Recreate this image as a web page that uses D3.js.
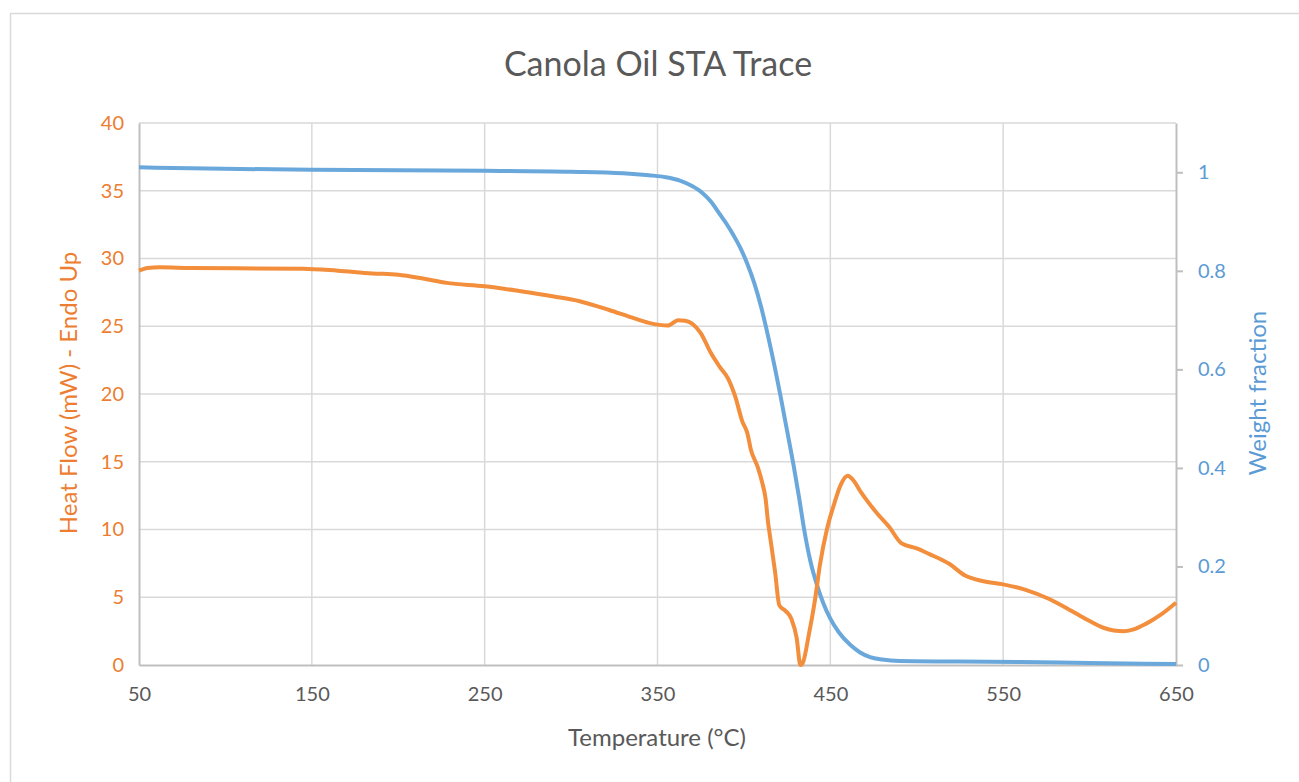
<!DOCTYPE html>
<html>
<head>
<meta charset="utf-8">
<script src="https://cdn.jsdelivr.net/npm/d3@7"></script>
<style>
  html, body { margin: 0; padding: 0; background: #fff; }
  svg { display: block; font-family: Lato, "Open Sans", sans-serif; }
</style>
</head>
<body>
<svg id="chart" width="1299" height="782"></svg>
<script>
// ---- data ----
const title = "Canola Oil STA Trace";
const xTitle = "Temperature (°C)";
const yLeftTitle = "Heat Flow (mW) - Endo Up";
const yRightTitle = "Weight fraction";

const xTicks = [50, 150, 250, 350, 450, 550, 650];
const yLeftTicks = [0, 5, 10, 15, 20, 25, 30, 35, 40];
const yRightTicks = [0, 0.2, 0.4, 0.6, 0.8, 1];

// Heat flow (mW) vs temperature
const heatTemp = [50, 55, 62, 80, 145, 165, 185, 200, 215, 228, 250, 270, 290, 305, 322, 335, 345, 356, 362, 366, 370, 375, 381, 386, 391, 395, 399, 402, 404, 408, 410.5, 412.5, 414, 415, 418, 420.5, 424, 427.5, 430.5, 432.7, 434.2, 437.5, 441, 444, 448, 452, 456, 460, 463.5, 467.5, 472, 477, 484, 491, 500, 507, 519, 528, 538, 550, 563, 577, 588, 597, 608, 614, 620, 626, 632, 641, 650];
const heatFlow = [29.1, 29.3, 29.35, 29.3, 29.25, 29.1, 28.9, 28.8, 28.5, 28.2, 27.95, 27.6, 27.2, 26.85, 26.2, 25.65, 25.25, 25.05, 25.45, 25.4, 25.2, 24.5, 23.0, 22.0, 21.1, 19.8, 18.0, 17.1, 15.9, 14.6, 13.5, 12.3, 10.5, 9.6, 6.9, 4.4, 4.0, 3.4, 2.0, 0.0, 0.2, 2.2, 4.7, 7.4, 10.0, 11.8, 13.3, 13.97, 13.6, 12.8, 12.0, 11.2, 10.2, 9.0, 8.6, 8.2, 7.45, 6.6, 6.2, 5.95, 5.55, 4.85, 4.1, 3.45, 2.75, 2.55, 2.5, 2.65, 3.0, 3.7, 4.6];

// Weight fraction vs temperature
const weightTemp = [50, 80, 150, 250, 300, 330, 345, 355, 363, 370, 376, 381, 386, 390, 394, 398, 402, 406, 410, 414, 418, 421.5, 425, 428.8, 432, 435, 438.5, 442.3, 446, 450, 455, 461.5, 467, 473, 480, 490, 520, 560, 600, 650];
const weightFrac = [1.01, 1.008, 1.005, 1.003, 1.001, 0.998, 0.994, 0.99, 0.983, 0.972, 0.958, 0.94, 0.915, 0.895, 0.872, 0.846, 0.814, 0.775, 0.726, 0.667, 0.602, 0.54, 0.475, 0.404, 0.338, 0.272, 0.21, 0.162, 0.125, 0.094, 0.066, 0.041, 0.026, 0.016, 0.011, 0.008, 0.007, 0.006, 0.004, 0.002];

// ---- layout ----
const svg = d3.select("#chart");
const L = 139, R = 1176, T = 123, B = 665;
const orange = "#ED7D31", blue = "#5B9BD5";
const orangeLine = "#F28E3C", blueLine = "#6AA8DC";

const x = d3.scaleLinear().domain([50, 650]).range([L, R]);
const yL = d3.scaleLinear().domain([0, 40]).range([B, T]);
const yR = d3.scaleLinear().domain([0, 1.1]).range([B, T]);

// outer chart border
svg.append("rect").attr("x", 10.5).attr("y", 13.5).attr("width", 1400).attr("height", 1000)
  .attr("fill", "none").attr("stroke", "#d9d9d9").attr("stroke-width", 1.5);

// title
svg.append("text").attr("x", 658).attr("y", 76).attr("text-anchor", "middle")
  .attr("font-size", 34).attr("fill", "#595959").text(title);

// gridlines
const grid = svg.append("g");
grid.selectAll(".hg").data(yLeftTicks.filter(d => d > 0)).join("line")
  .attr("x1", L).attr("x2", R).attr("y1", d => yL(d)).attr("y2", d => yL(d))
  .attr("stroke", "#d9d9d9").attr("stroke-width", 1.5);
grid.selectAll(".vg").data(xTicks.filter(d => d > 50 && d < 650)).join("line")
  .attr("y1", T).attr("y2", B).attr("x1", d => x(d)).attr("x2", d => x(d))
  .attr("stroke", "#d9d9d9").attr("stroke-width", 1.5);

// axes
const xAxis = svg.append("g").attr("transform", `translate(0,${B})`)
  .call(d3.axisBottom(x).tickValues(xTicks).tickSize(0).tickPadding(22));
xAxis.select(".domain").attr("stroke", "#bfbfbf").attr("stroke-width", 2);
xAxis.selectAll("text").attr("font-size", 20).attr("fill", "#595959").attr("font-family", "Lato, sans-serif");

const yAxisL = svg.append("g").attr("transform", `translate(${L},0)`)
  .call(d3.axisLeft(yL).tickValues(yLeftTicks).tickSize(0).tickPadding(15));
yAxisL.select(".domain").attr("stroke", "#bfbfbf").attr("stroke-width", 2);
yAxisL.selectAll("text").attr("font-size", 20).attr("fill", orange).attr("font-family", "Lato, sans-serif");

const yAxisR = svg.append("g").attr("transform", `translate(${R},0)`)
  .call(d3.axisRight(yR).tickValues(yRightTicks).tickSizeInner(7).tickSizeOuter(0).tickPadding(15).tickFormat(d3.format("~g")));
yAxisR.select(".domain").attr("stroke", "#bfbfbf").attr("stroke-width", 2);
yAxisR.selectAll("line").attr("stroke", "#bfbfbf").attr("stroke-width", 2);
yAxisR.selectAll("text").attr("font-size", 20).attr("fill", blue).attr("font-family", "Lato, sans-serif");

// axis titles
svg.append("text").attr("x", 657).attr("y", 746).attr("text-anchor", "middle")
  .attr("font-size", 24).attr("fill", "#595959").text(xTitle);
svg.append("text").attr("transform", "translate(77,393) rotate(-90)").attr("text-anchor", "middle")
  .attr("font-size", 24).attr("fill", orange).text(yLeftTitle);
svg.append("text").attr("transform", "translate(1266,393) rotate(-90)").attr("text-anchor", "middle")
  .attr("font-size", 24).attr("fill", blue).text(yRightTitle);

// lines
const heat = heatTemp.map((t, i) => ({ t, v: heatFlow[i] }));
const weight = weightTemp.map((t, i) => ({ t, v: weightFrac[i] }));

svg.append("path").datum(weight)
  .attr("d", d3.line().x(d => x(d.t)).y(d => yR(d.v)).curve(d3.curveMonotoneX))
  .attr("fill", "none").attr("stroke", blueLine).attr("stroke-width", 4).attr("stroke-linejoin", "round");

svg.append("path").datum(heat)
  .attr("d", d3.line().x(d => x(d.t)).y(d => yL(d.v)).curve(d3.curveMonotoneX))
  .attr("fill", "none").attr("stroke", orangeLine).attr("stroke-width", 4).attr("stroke-linejoin", "round");
</script>
</body>
</html>
